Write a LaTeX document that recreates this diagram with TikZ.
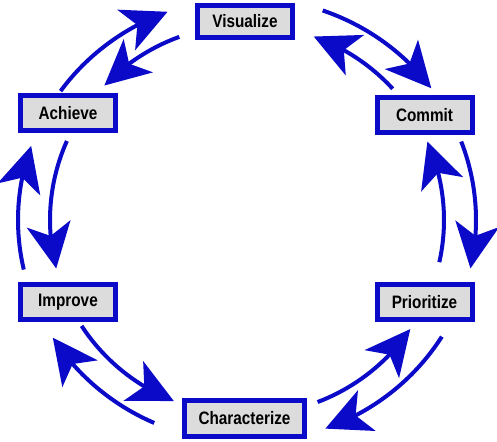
\documentclass[tikz,border=0pt]{standalone}
\usepackage{fontspec}
\newfontfamily\boxfont[FakeStretch=0.85]{Liberation Sans}
\usetikzlibrary{arrows.meta,bending}
\definecolor{bblue}{RGB}{10,10,200}
\definecolor{bgray}{RGB}{220,220,220}
\begin{document}
\begin{tikzpicture}[x=1pt,y=1pt,
  stepbox/.style={draw=bblue, line width=5pt, fill=bgray, minimum width=95pt,
    minimum height=35pt, inner sep=0pt,
    font=\boxfont\bfseries\fontsize{18}{20}\selectfont},
  cyc/.style={draw=bblue, line width=4pt,
    -{Stealth[length=45pt,width=44pt,inset=12pt]}}]
\fill[white] (0,0) rectangle (497,441);
\useasboundingbox (0,0) rectangle (497,441);
% boxes
\node[stepbox, minimum height=32pt] (vis) at (245,419.5) {Visualize};
\node[stepbox] (ach) at (68,328) {Achieve};
\node[stepbox] (com) at (424.5,326) {Commit};
\node[stepbox] (imp) at (68,138.5) {Improve};
\node[stepbox] (pri) at (424.5,138.5) {Prioritize};
\node[stepbox, minimum width=120pt] (cha) at (244.5,22.5) {Characterize};
% centre of the cycle
\coordinate (c) at (247,221);
% outer arrows (clockwise)
\draw[cyc] ([shift={(144.5:229 and 222)}]c) arc[start angle=144.5, end angle=110.3, x radius=229, y radius=222];
\draw[cyc] ([shift={(70.7:229 and 222)}]c) arc[start angle=70.7, end angle=36.4, x radius=229, y radius=222];
\draw[cyc] ([shift={(20.7:229 and 222)}]c) arc[start angle=20.7, end angle=-12.6, x radius=229, y radius=222];
\draw[cyc] ([shift={(-31.7:229 and 222)}]c) arc[start angle=-31.7, end angle=-70, x radius=229, y radius=222];
\draw[cyc] ([shift={(246.1:229 and 222)}]c) arc[start angle=246.1, end angle=212, x radius=229, y radius=222];
\draw[cyc] ([shift={(192.9:229 and 222)}]c) arc[start angle=192.9, end angle=160.5, x radius=229, y radius=222];
% inner arrows (counter-clockwise)
\draw[cyc] ([shift={(110.1:197 and 195)}]c) arc[start angle=110.1, end angle=136.4, x radius=197, y radius=195];
\draw[cyc] ([shift={(42.3:197 and 195)}]c) arc[start angle=42.3, end angle=70.2, x radius=197, y radius=195];
\draw[cyc] ([shift={(-12.5:197 and 195)}]c) arc[start angle=-12.5, end angle=23.7, x radius=197, y radius=195];
\draw[cyc] ([shift={(-69:197 and 195)}]c) arc[start angle=-69, end angle=-34, x radius=197, y radius=195];
\draw[cyc] ([shift={(212.9:197 and 195)}]c) arc[start angle=212.9, end angle=248.2, x radius=197, y radius=195];
\draw[cyc] ([shift={(156.1:197 and 195)}]c) arc[start angle=156.1, end angle=194.4, x radius=197, y radius=195];
\end{tikzpicture}
\end{document}
